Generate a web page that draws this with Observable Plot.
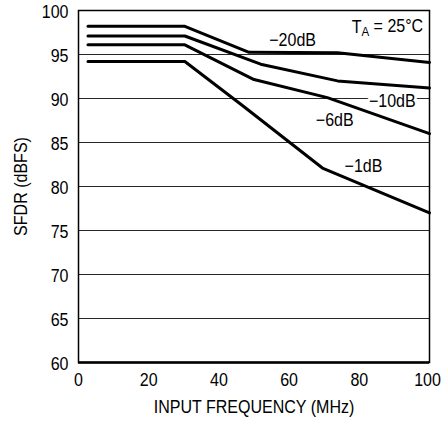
<!DOCTYPE html>
<html>
<head>
<meta charset="utf-8">
<script src="https://cdn.jsdelivr.net/npm/d3@7"></script>
<script src="https://cdn.jsdelivr.net/npm/@observablehq/plot@0.6"></script>
<style>
  html, body { margin: 0; padding: 0; background: #fff; }
  #chart svg { display: block; }
</style>
</head>
<body>
<div id="chart"></div>
<script>
// Series (input amplitude) and values
const seriesNames = ["−20dB", "−10dB", "−6dB", "−1dB"];
const freq20 = [2.7, 30.3, 48.6, 73.8, 100];
const sfdr20 = [98.2, 98.2, 95.25, 95.2, 94.1];
const freq10 = [2.7, 30.3, 51.9, 73.8, 100];
const sfdr10 = [97.1, 97.1, 93.9, 92.0, 91.2];
const freq6 = [2.7, 30.3, 50.0, 70.9, 100];
const sfdr6 = [96.1, 96.1, 92.15, 90.1, 86.0];
const freq1 = [2.7, 30.3, 46.7, 69.5, 100];
const sfdr1 = [94.2, 94.2, 89.2, 82.1, 77.0];

const xTicks = [0, 20, 40, 60, 80, 100];
const yTicks = [60, 65, 70, 75, 80, 85, 90, 95, 100];
const gridValues = [65, 70, 75, 80, 85, 90, 95];

// Curve labels
const labelText = ["−20dB", "−10dB", "−6dB", "−1dB"];
const labelX = [61, 89.4, 73, 81.2];
const labelY = [96.6, 89.7, 87.5, 82.25];

const allF = [freq20, freq10, freq6, freq1];
const allS = [sfdr20, sfdr10, sfdr6, sfdr1];
const rows = [];
seriesNames.forEach((name, i) => {
  allF[i].forEach((f, j) => rows.push({series: name, f, s: allS[i][j]}));
});
const labels = labelText.map((t, i) => ({t, x: labelX[i], y: labelY[i]}));

const FONT = "'Liberation Sans', Arial, sans-serif";

const chart = Plot.plot({
  width: 444,
  height: 421,
  marginLeft: 78,
  marginRight: 15,
  marginTop: 10,
  marginBottom: 59,
  style: {fontFamily: FONT, fontSize: "18px", color: "#000", background: "#fff"},
  x: {domain: [0, 100], ticks: xTicks, tickSize: 0, tickPadding: 11,
      label: "INPUT FREQUENCY (MHz)", labelAnchor: "center", labelArrow: "none", labelOffset: 50.5},
  y: {domain: [60, 100], ticks: yTicks, tickSize: 0, tickPadding: 10,
      label: "SFDR (dBFS)", labelAnchor: "center", labelArrow: "none", labelOffset: 64},
  marks: [
    Plot.ruleY(gridValues, {stroke: "#000", strokeWidth: 1, strokeOpacity: 0.85}),
    Plot.text(labels, {x: "x", y: "y", text: "t", fill: "#000", stroke: "#fff", strokeWidth: 6, fontSize: 18}),
    Plot.text(["TA = 25°C"], {x: 98.2, y: 98.1, text: d => d, textAnchor: "end", fill: "#000", fontSize: 18}),
    Plot.line(rows, {x: "f", y: "s", z: "series", stroke: "#000", strokeWidth: 3, strokeLinejoin: "miter"}),
    Plot.frame({stroke: "#000", strokeWidth: 1.5}),
    Plot.ruleY([60], {stroke: "#000", strokeWidth: 2.5})
  ]
});

// Subscript for T_A
d3.select(chart).selectAll("text").each(function() {
  if (this.textContent === "TA = 25°C") {
    const t = d3.select(this);
    t.text("");
    t.append("tspan").text("T");
    t.append("tspan").attr("dy", "0.25em").attr("font-size", "13px").text("A");
    t.append("tspan").attr("dy", "-0.25em").text(" = 25°C");
  }
});
// Nudge y tick labels slightly downward, like the reference
d3.select(chart).selectAll("g[aria-label='y-axis tick label'] text").attr("dy", "1.5");
// Keep the last x tick label inside the picture
d3.select(chart).selectAll("g[aria-label='x-axis tick label'] text").each(function() {
  if (this.textContent === "100") this.setAttribute("dx", "-2");
});

document.getElementById("chart").appendChild(chart);

// Condense all text horizontally (reference uses a narrow face)
d3.select(chart).selectAll("text").each(function() {
  const len = this.getComputedTextLength();
  if (len > 0) {
    this.setAttribute("textLength", (len * 0.89).toFixed(2));
    this.setAttribute("lengthAdjust", "spacingAndGlyphs");
  }
});
</script>
</body>
</html>
